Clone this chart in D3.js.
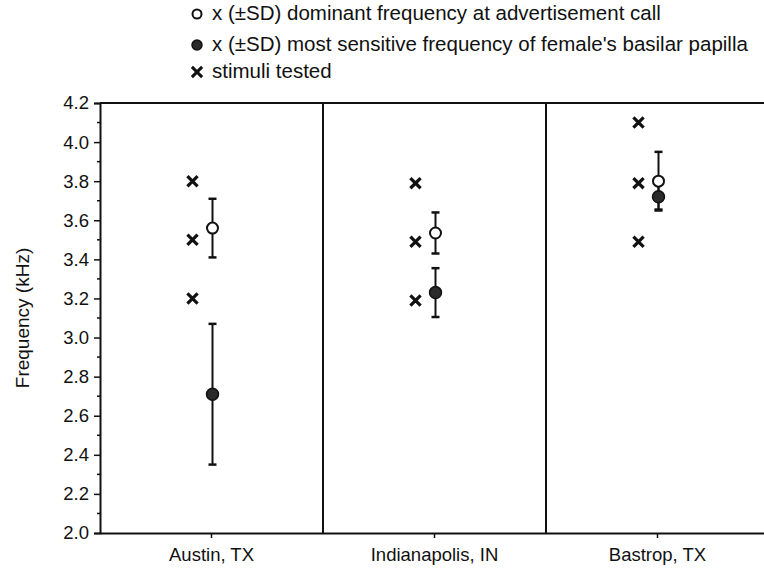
<!DOCTYPE html>
<html><head><meta charset="utf-8">
<script src="https://cdn.jsdelivr.net/npm/d3@7"></script>
<style>body{margin:0;background:#fff}svg{display:block}text{font-family:"Liberation Sans",Arial,sans-serif;fill:#111}</style>
</head><body><svg id="c" width="764" height="572"></svg>
<script>
const categories = ["Austin, TX", "Indianapolis, IN", "Bastrop, TX"];
const callMean = [3.56, 3.535, 3.80];
const callSD = [0.15, 0.105, 0.15];
const papillaMean = [2.71, 3.23, 3.72];
const papillaSD = [0.36, 0.125, 0.065];
const stimuli = [[3.8, 3.5, 3.2], [3.79, 3.49, 3.19], [4.1, 3.79, 3.49]];
const yTicks = [2.0, 2.2, 2.4, 2.6, 2.8, 3.0, 3.2, 3.4, 3.6, 3.8, 4.0, 4.2];
const legendLabels = ["x (\u00b1SD) dominant frequency at advertisement call",
  "x (\u00b1SD) most sensitive frequency of female's basilar papilla",
  "stimuli tested"];

const svg = d3.select("#c");
const L = 100, R = 769, T = 103, B = 533;
const x = d3.scaleBand().domain(categories).range([L, R]);
const y = d3.scaleLinear().domain([2.0, 4.2]).range([B, T]);
const ink = "#111";

// frame: top line and dividers
svg.append("line").attr("x1", L).attr("x2", 764).attr("y1", T).attr("y2", T).attr("stroke", ink).attr("stroke-width", 2);
categories.slice(1).forEach(c => {
  svg.append("line").attr("x1", x(c)).attr("x2", x(c)).attr("y1", T).attr("y2", B).attr("stroke", ink).attr("stroke-width", 2);
});

// y axis
const yAxis = svg.append("g").attr("transform", `translate(${L},0)`)
  .call(d3.axisLeft(y).tickValues(yTicks).tickFormat(d3.format(".1f")).tickSize(6).tickPadding(5));
yAxis.select(".domain").attr("stroke", ink).attr("stroke-width", 2);
yAxis.selectAll(".tick line").attr("stroke", ink).attr("stroke-width", 1.5);
yAxis.selectAll("text").style("font-size", "18.5px").attr("fill", ink);
const minor = d3.range(2.1, 4.2, 0.2);
svg.append("g").selectAll("line").data(minor).join("line")
  .attr("x1", L - 3).attr("x2", L).attr("y1", d => y(d)).attr("y2", d => y(d))
  .attr("stroke", ink).attr("stroke-width", 1.5);

// x axis
const xAxis = svg.append("g").attr("transform", `translate(0,${B})`)
  .call(d3.axisBottom(x).tickSize(5).tickPadding(10).tickSizeOuter(0));
xAxis.select(".domain").attr("stroke", ink).attr("stroke-width", 2);
xAxis.selectAll(".tick line").attr("stroke", ink).attr("stroke-width", 1.5);
xAxis.selectAll("text").style("font-size", "18.5px").attr("fill", ink);

// y title
svg.append("text").attr("transform", `translate(29,${(T + B) / 2}) rotate(-90)`)
  .attr("text-anchor", "middle").style("font-size", "19px").text("Frequency (kHz)");

const cx = c => x(c) + x.bandwidth() / 2 + 1;
const sx = c => x(c) + x.bandwidth() / 2 - 19;
const xSym = d3.symbol().type(d3.symbolX).size(70);

categories.forEach((c, i) => {
  // stimuli
  stimuli[i].forEach(v => {
    svg.append("path").attr("d", xSym()).attr("transform", `translate(${sx(c)},${y(v)})`)
      .attr("fill", "none").attr("stroke", ink).attr("stroke-width", 3.2);
  });
  // error bars
  const bars = [[papillaMean[i], papillaSD[i]], [callMean[i], callSD[i]]];
  bars.forEach(([m, s]) => {
    const g = svg.append("g").attr("stroke", ink).attr("stroke-width", 2);
    g.append("line").attr("x1", cx(c)).attr("x2", cx(c)).attr("y1", y(m - s)).attr("y2", y(m + s));
    [m - s, m + s].forEach(v => g.append("line").attr("x1", cx(c) - 4).attr("x2", cx(c) + 4).attr("y1", y(v)).attr("y2", y(v)).attr("stroke-width", 2.5));
  });
  svg.append("circle").attr("cx", cx(c)).attr("cy", y(papillaMean[i])).attr("r", 6)
    .attr("fill", "#2a2a2a").attr("stroke", ink).attr("stroke-width", 1.5);
  svg.append("circle").attr("cx", cx(c)).attr("cy", y(callMean[i])).attr("r", 5.5)
    .attr("fill", "#fff").attr("stroke", ink).attr("stroke-width", 2);
});

// legend
const ly = [14, 45, 72];
svg.append("circle").attr("cx", 197).attr("cy", ly[0]).attr("r", 4.5).attr("fill", "#fff").attr("stroke", ink).attr("stroke-width", 2);
svg.append("circle").attr("cx", 197).attr("cy", ly[1]).attr("r", 5).attr("fill", "#2a2a2a").attr("stroke", ink).attr("stroke-width", 1.5);
svg.append("path").attr("d", xSym()).attr("transform", `translate(197,${ly[2]})`).attr("fill", "none").attr("stroke", ink).attr("stroke-width", 3);
legendLabels.forEach((t, i) => {
  svg.append("text").attr("x", 212).attr("y", ly[i] + 6).style("font-size", "20.5px").text(t);
});
</script></body></html>
